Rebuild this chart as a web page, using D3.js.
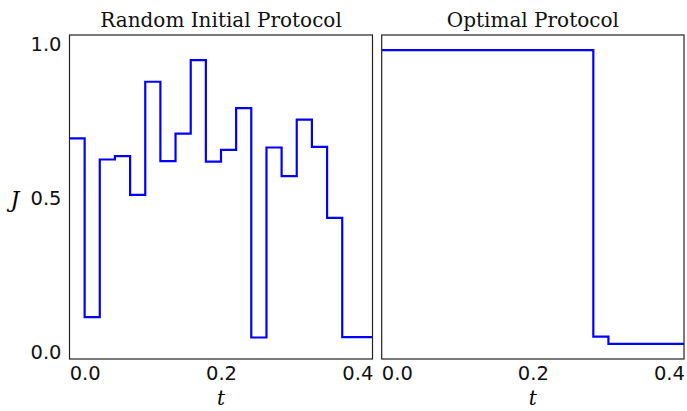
<!DOCTYPE html>
<html>
<head>
<meta charset="utf-8">
<script src="https://cdn.jsdelivr.net/npm/d3@7"></script>
<style>
  body { margin: 0; background: #fff; }
  svg { display: block; }
</style>
</head>
<body>
<svg id="chart" width="687" height="411"></svg>
<script>
// ---- data ----
const tEdges = [-0.0222, 0, 0.0222, 0.0444, 0.0667, 0.0889, 0.1111, 0.1333, 0.1556, 0.1778,
                0.2, 0.2222, 0.2444, 0.2667, 0.2889, 0.3111, 0.3333, 0.3556, 0.3778, 0.4, 0.4222];
const randomJ = [0.695, 0.113, 0.626, 0.637, 0.511, 0.879, 0.621, 0.710, 0.949, 0.619,
                 0.657, 0.793, 0.047, 0.665, 0.572, 0.756, 0.667, 0.436, 0.048, 0.048];
const optimalJ = [0.982, 0.982, 0.982, 0.982, 0.982, 0.982, 0.982, 0.982, 0.982, 0.982,
                  0.982, 0.982, 0.982, 0.982, 0.050, 0.026, 0.026, 0.026, 0.026, 0.026];
const xTicks = [0.0, 0.2, 0.4];
const yTicks = [0.0, 0.5, 1.0];
const titles = ["Random Initial Protocol", "Optimal Protocol"];

const svg = d3.select("#chart");
const plotTop = 35, plotBottom = 359;
const panels = [
  { x0: 69.5, x1: 372.5, data: randomJ, title: titles[0], yAxis: true },
  { x0: 381.7, x1: 684, data: optimalJ, title: titles[1], yAxis: false }
];
const y = d3.scaleLinear().domain([-0.023, 1.031]).range([plotBottom, plotTop]);

panels.forEach(p => {
  const x = d3.scaleLinear().domain([tEdges[0], tEdges[tEdges.length - 1]]).range([p.x0, p.x1]);
  const g = svg.append("g");
  const clipId = "clip" + Math.round(p.x0);
  svg.append("clipPath").attr("id", clipId).append("rect")
    .attr("x", p.x0).attr("y", plotTop).attr("width", p.x1 - p.x0).attr("height", plotBottom - plotTop);

  const pts = p.data.map((v, i) => [tEdges[i], v]);
  pts.push([tEdges[tEdges.length - 1], p.data[p.data.length - 1]]);
  const line = d3.line().x(d => x(d[0])).y(d => y(d[1])).curve(d3.curveStepAfter);
  g.append("path").datum(pts)
    .attr("clip-path", `url(#${clipId})`)
    .attr("d", line).attr("fill", "none")
    .attr("stroke", "#0000ff").attr("stroke-width", 2.2).attr("stroke-linejoin", "miter");

  g.append("rect").attr("x", p.x0).attr("y", plotTop).attr("width", p.x1 - p.x0).attr("height", plotBottom - plotTop)
    .attr("fill", "none").attr("stroke", "#222").attr("stroke-width", 1.2);

  const xa = g.append("g").attr("transform", `translate(0,${plotBottom})`)
    .call(d3.axisBottom(x).tickValues(xTicks).tickSize(0).tickPadding(7).tickFormat(d3.format(".1f")));
  xa.select(".domain").remove();
  xa.selectAll("text").attr("font-family", "DejaVu Sans").attr("font-size", 19.5).attr("fill", "#111");

  g.append("text").attr("x", (p.x0 + p.x1) / 2).attr("y", 405)
    .attr("text-anchor", "middle").attr("font-family", "DejaVu Serif").attr("font-style", "italic")
    .attr("font-size", 20).text("t");

  g.append("text").attr("x", (p.x0 + p.x1) / 2).attr("y", 27)
    .attr("text-anchor", "middle").attr("font-family", "DejaVu Serif")
    .attr("font-size", 20).attr("fill", "#111").text(p.title);

  if (p.yAxis) {
    const ya = g.append("g").attr("transform", `translate(${p.x0},0)`)
      .call(d3.axisLeft(y).tickValues(yTicks).tickSize(0).tickPadding(8).tickFormat(d3.format(".1f")));
    ya.select(".domain").remove();
    ya.selectAll("text").attr("font-family", "DejaVu Sans").attr("font-size", 19.5).attr("fill", "#111");
    g.append("text").attr("x", 15).attr("y", 207)
      .attr("text-anchor", "middle").attr("font-family", "DejaVu Serif").attr("font-style", "italic")
      .attr("font-size", 22).text("J");
  }
});
</script>
</body>
</html>
